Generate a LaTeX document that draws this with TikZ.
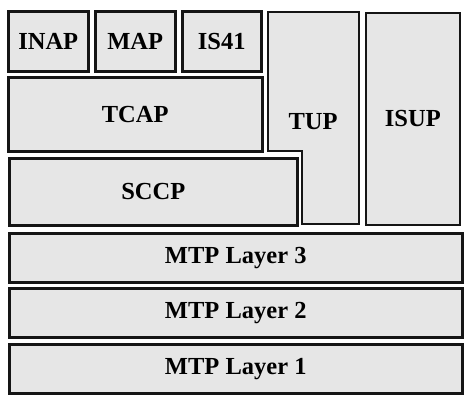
\documentclass[tikz,border=0pt]{standalone}
\usepackage{fontspec}
\setmainfont{Liberation Serif}
\usepackage{xcolor}
\usepackage{tikz}

\definecolor{layerfill}{HTML}{E6E6E6}
\definecolor{layerline}{HTML}{151515}

\begin{document}
\begin{tikzpicture}[x=1pt, y=-1pt,
  layer/.style={draw=layerline, fill=layerfill, rectangle, line width=2.5pt,
    inner sep=0pt, anchor=north west,
    font=\fontsize{24.5}{27}\selectfont\bfseries}]
  \useasboundingbox (0,0) rectangle (468,402);

  \node (inap) [layer, minimum width=80pt, minimum height=60pt] at (7,10) {INAP};
  \node (map) [layer, minimum width=80pt, minimum height=60pt] at (94,10) {MAP};
  \node (isfortyone) [layer, minimum width=79pt, minimum height=60pt] at (181,10) {IS41};
  \node (tcap) [layer, minimum width=254pt, minimum height=74pt] at (7,76) {TCAP};
  \node (sccp) [layer, minimum width=288pt, minimum height=67pt] at (8,157) {SCCP};

  % TUP wraps round the corner of SCCP
  \draw [draw=layerline, fill=layerfill, line width=1.7pt]
    (268,12) -- (359,12) -- (359,224) -- (302,224) -- (302,151) -- (268,151) -- cycle;
  \node (tup) [font=\fontsize{24.5}{27}\selectfont\bfseries] at (313,122) {TUP};
  \node (isup) [layer, line width=1.7pt, minimum width=94pt, minimum height=212pt] at (365,12) {ISUP};

  \node (mtpthree) [layer, minimum width=453pt, minimum height=49pt] at (8,232) {MTP Layer 3};
  \node (mtptwo) [layer, minimum width=453pt, minimum height=49pt] at (8,287) {MTP Layer 2};
  \node (mtpone) [layer, minimum width=453pt, minimum height=49pt] at (8,343) {MTP Layer 1};
\end{tikzpicture}
\end{document}
